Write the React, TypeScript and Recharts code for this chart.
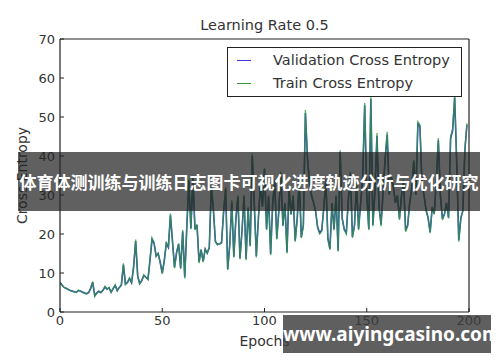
import React from "react";
import { LineChart, Line, XAxis, YAxis } from "recharts";

// cross entropy per epoch
const trainCE = [
  7.5, 6.8, 6.3, 6.0, 5.7, 5.5, 5.3, 5.1, 5.0, 5.6,
  5.3, 5.0, 4.8, 4.6, 4.9, 6.2, 7.8, 4.0, 4.8, 5.3,
  4.9, 5.6, 6.6, 5.8, 6.3, 5.0, 6.1, 7.0, 5.4, 6.3,
  6.8, 12.5, 7.0, 7.6, 8.8, 7.4, 11.8, 18.6, 9.0, 7.2,
  8.0, 9.5, 8.8, 8.3, 13.5, 19.0, 17.8, 14.2, 15.0, 12.6,
  9.8, 13.2, 18.0, 16.5, 25.3, 18.0, 11.2, 15.3, 17.6, 11.0,
  21.0, 8.6, 22.0, 34.0, 21.2, 35.0, 21.0, 22.5, 12.5, 16.0,
  12.8, 16.2, 15.0, 16.5, 32.6, 26.5, 18.0, 17.2, 17.5, 17.6,
  26.0, 32.0, 10.8, 17.0, 28.7, 14.0, 24.0, 30.0, 13.5, 20.7,
  30.0, 13.3, 27.0, 16.8, 40.7, 28.0, 14.0, 24.0, 33.0, 27.0,
  37.0, 21.0, 30.0, 14.6, 28.0, 34.0, 18.6, 26.0, 36.0, 22.0,
  28.0, 15.0, 32.0, 25.0, 30.0, 18.0, 24.0, 34.0, 19.0, 22.0,
  51.8, 39.8, 33.0, 30.0, 28.0, 26.0, 21.5, 20.0, 20.7, 27.0,
  34.0, 18.6, 15.9, 28.0, 21.0, 30.0, 15.5, 41.5, 24.0, 21.0,
  20.0, 29.0, 36.0, 19.0, 22.0, 33.0, 21.0, 28.0, 35.0, 53.6,
  30.0, 21.0, 55.2, 22.0, 31.0, 45.9, 27.0, 22.0, 31.0, 39.8,
  46.2, 30.0, 35.0, 32.0, 28.0, 30.0, 23.6, 30.0, 34.0, 20.6,
  22.0, 28.0, 32.0, 39.0, 30.0, 48.8, 48.0, 33.0, 30.0, 26.0,
  24.0, 20.2, 27.0, 25.0, 34.0, 44.6, 30.0, 23.6, 25.0, 28.0,
  24.0, 45.0, 47.0, 55.6, 38.0, 18.0, 24.0, 26.0, 42.0, 48.4,
];

const validationCE = [
  7.6, 6.9, 6.3, 6.1, 5.8, 5.5, 5.4, 5.2, 5.1, 5.5,
  5.4, 5.1, 4.9, 4.7, 5.0, 6.0, 7.6, 4.2, 4.9, 5.3,
  5.0, 5.6, 6.4, 5.9, 6.2, 5.1, 6.0, 6.8, 5.5, 6.3,
  6.9, 12.1, 7.2, 7.6, 8.6, 7.5, 11.5, 18.2, 9.2, 7.3,
  8.1, 9.4, 8.9, 8.4, 13.2, 18.6, 17.6, 14.4, 15.0, 12.8,
  10.0, 13.2, 17.6, 16.6, 24.8, 18.2, 11.5, 15.2, 17.4, 11.3,
  20.6, 8.9, 21.6, 33.5, 21.4, 34.5, 21.2, 22.3, 12.8, 16.0,
  13.0, 16.1, 15.1, 16.5, 32.0, 26.2, 18.1, 17.3, 17.5, 17.8,
  25.6, 31.5, 11.0, 17.2, 28.2, 14.2, 23.8, 29.5, 13.8, 20.9,
  29.6, 13.6, 26.6, 17.0, 40.0, 27.8, 14.3, 23.8, 32.5, 27.0,
  36.5, 21.2, 29.6, 14.9, 27.8, 33.5, 18.8, 25.8, 35.5, 22.2,
  27.8, 15.3, 31.6, 25.0, 29.7, 18.3, 23.9, 33.6, 19.2, 22.3,
  51.0, 39.5, 33.0, 29.8, 28.0, 25.8, 21.7, 20.3, 21.0, 26.8,
  33.6, 18.9, 16.2, 27.8, 21.2, 29.6, 15.8, 41.0, 24.0, 21.2,
  20.3, 28.8, 35.5, 19.3, 22.2, 32.6, 21.3, 27.8, 34.6, 53.0,
  30.0, 21.3, 54.6, 22.3, 30.8, 45.2, 27.0, 22.4, 31.0, 39.2,
  45.5, 30.2, 34.6, 32.0, 28.0, 29.8, 23.9, 29.8, 33.6, 20.9,
  22.2, 28.0, 31.6, 38.6, 30.0, 48.2, 47.6, 33.0, 30.0, 26.2,
  24.2, 20.5, 26.8, 25.2, 33.6, 44.0, 30.0, 23.9, 25.2, 28.0,
  24.2, 44.5, 46.5, 55.0, 38.0, 18.4, 24.0, 26.0, 41.6, 48.0,
];

const xTicks = [0, 50, 100, 150, 200];
const yTicks = [0, 10, 20, 30, 40, 50, 60, 70];

const legendItems = [
  { name: "Validation Cross Entropy", color: "#3a3ad8" },
  { name: "Train Cross Entropy", color: "#2f9a3c" },
];

const data = trainCE.map((t, i) => ({
  epoch: i,
  train: t,
  validation: validationCE[i],
}));

const FONT = "'DejaVu Sans', Verdana, sans-serif";
const tickStyle = { fontSize: 13, fill: "#333", fontFamily: FONT };

const LegendBox = () => (
  <div
    style={{
      position: "absolute",
      left: 227,
      top: 47,
      border: "1px solid #222",
      background: "#fff",
      width: 235,
      height: 50,
      boxSizing: "border-box",
      fontFamily: FONT,
      fontSize: 14.5,
      color: "#333",
      padding: "1px 0 0 9px",
      lineHeight: "23px",
    }}
  >
    {legendItems.map((it) => (
      <div key={it.name} style={{ display: "flex", alignItems: "center" }}>
        <span
          style={{
            display: "inline-block",
            width: 14,
            height: 1.5,
            background: it.color,
            marginRight: 22,
          }}
        />
        {it.name}
      </div>
    ))}
  </div>
);

export default function App() {
  return (
    <div
      style={{
        position: "absolute",
        left: 0,
        top: 0,
        width: 500,
        height: 362,
        background: "#fff",
        overflow: "hidden",
      }}
    >
      <div
        style={{
          position: "absolute",
          left: 0,
          top: 17,
          width: 529,
          textAlign: "center",
          fontFamily: FONT,
          fontSize: 14.5,
          color: "#333",
        }}
      >
        Learning Rate 0.5
      </div>
      <LineChart
        width={500}
        height={362}
        data={data}
        margin={{ top: 38, right: 30, bottom: 10, left: 0 }}
      >
        <XAxis
          dataKey="epoch"
          type="number"
          domain={[0, 200]}
          ticks={xTicks}
          allowDataOverflow
          tick={tickStyle}
          tickSize={-4}
          tickMargin={8}
          height={40}
          axisLine={{ stroke: "#222", strokeWidth: 1.2 }}
          tickLine={{ stroke: "#222" }}
          label={{
            value: "Epochs",
            position: "insideBottom",
            offset: 6,
            style: { fontSize: 14, fill: "#333", fontFamily: FONT },
          }}
        />
        <XAxis
          xAxisId="top"
          orientation="top"
          dataKey="epoch"
          type="number"
          domain={[0, 200]}
          ticks={xTicks}
          allowDataOverflow
          tick={false}
          tickSize={-4}
          height={1}
          axisLine={{ stroke: "#222", strokeWidth: 1.2 }}
          tickLine={{ stroke: "#222" }}
        />
        <YAxis
          type="number"
          domain={[0, 70]}
          ticks={yTicks}
          allowDataOverflow
          tick={tickStyle}
          tickSize={-4}
          tickMargin={9}
          width={60}
          axisLine={{ stroke: "#222", strokeWidth: 1.2 }}
          tickLine={{ stroke: "#222" }}
          label={{
            value: "Cross Entropy",
            angle: -90,
            position: "center",
            dx: -8,
            style: { fontSize: 14, fill: "#333", fontFamily: FONT },
          }}
        />
        <YAxis
          yAxisId="right"
          orientation="right"
          type="number"
          domain={[0, 70]}
          ticks={yTicks}
          allowDataOverflow
          tick={false}
          tickSize={-4}
          width={1}
          axisLine={{ stroke: "#222", strokeWidth: 1.2 }}
          tickLine={{ stroke: "#222" }}
        />
        <Line
          type="linear"
          dataKey="validation"
          name="Validation Cross Entropy"
          stroke="#3a3ad8"
          strokeWidth={1.6}
          dot={false}
          isAnimationActive={false}
        />
        <Line
          type="linear"
          dataKey="train"
          name="Train Cross Entropy"
          stroke="#2f9a3c"
          strokeWidth={1.3}
          strokeOpacity={0.8}
          dot={false}
          isAnimationActive={false}
        />
      </LineChart>
      <LegendBox />
      <div
        style={{
          position: "absolute",
          left: 18,
          top: 152,
          width: 462,
          height: 59,
          background: "rgba(35,35,35,0.72)",
          color: "#fff",
          fontFamily: "'Noto Sans CJK SC', sans-serif",
          fontWeight: 700,
          fontSize: 17,
          lineHeight: "59px",
          textAlign: "center",
          whiteSpace: "nowrap",
        }}
      >
        体育体测训练与训练日志图卡可视化进度轨迹分析与优化研究
      </div>
      <div
        style={{
          position: "absolute",
          left: 283,
          top: 315,
          width: 208,
          height: 38,
          background: "rgba(60,60,60,0.82)",
          color: "#fff",
          fontFamily: "'Noto Sans', sans-serif",
          fontWeight: 700,
          fontSize: 19,
          lineHeight: "38px",
          textAlign: "center",
          whiteSpace: "nowrap",
        }}
      >
        www.aiyingcasino.com
      </div>
    </div>
  );
}
